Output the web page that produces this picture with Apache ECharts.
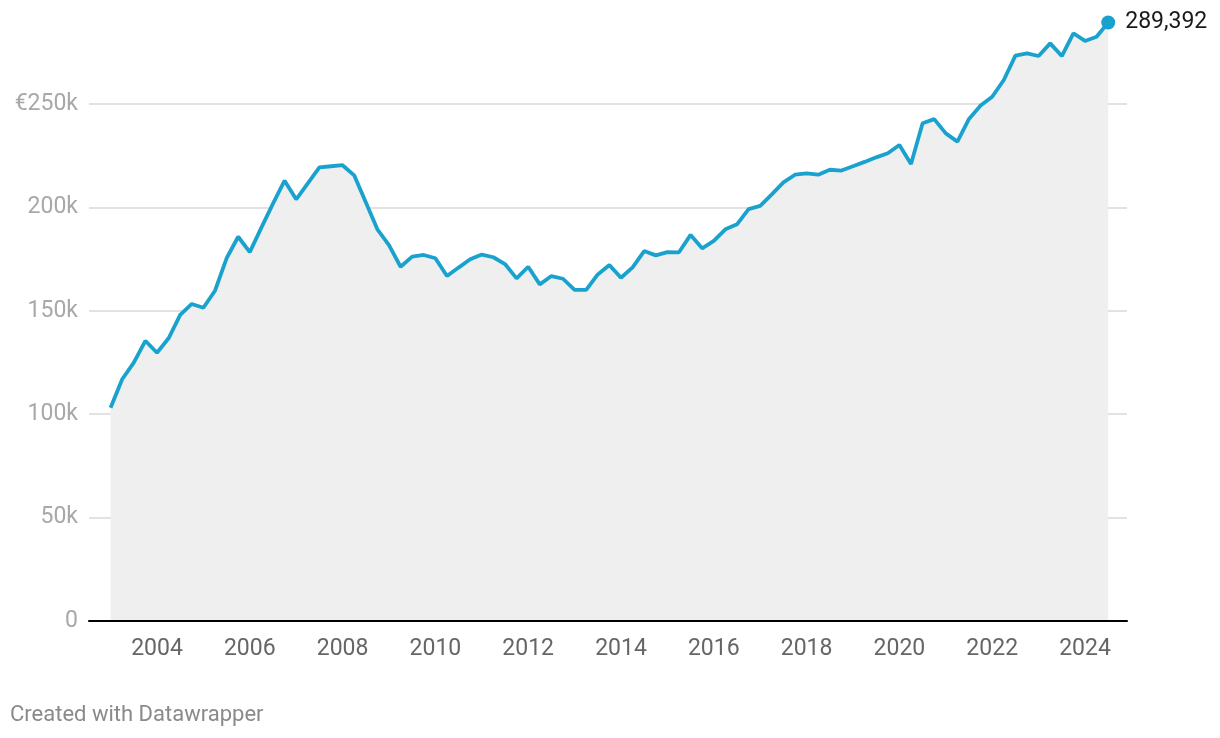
<!DOCTYPE html>
<html>
<head>
<meta charset="utf-8">
<script src="https://cdn.jsdelivr.net/npm/echarts@6/dist/echarts.min.js"></script>
<style>
html,body{margin:0;padding:0;background:#fff;}
#chart{width:1220px;height:738px;}
#credit{position:absolute;left:10px;top:701px;font-family:Roboto,sans-serif;font-size:22px;color:#8a8a8a;}
</style>
</head>
<body>
<div id="chart"></div>
<div id="credit">Created with Datawrapper</div>
<script>
// Quarterly series, 2003 Q1 to 2024 Q3
const startYear = 2003;
const values = [
  103100, 116900, 124900, 135500, 129700, 136700, 148000, 153300, 151500, 159700,
  175400, 185800, 178400, 190200, 201800, 212900, 203900, 211600, 219400, 219900,
  220400, 215500, 202500, 189400, 181800, 171300, 176200, 177000, 175400, 166800,
  170900, 174900, 177200, 175900, 172600, 165700, 171300, 162800, 166800, 165500,
  160100, 160100, 167600, 172100, 166000, 171000, 178900, 176800, 178400, 178300,
  186700, 180200, 183800, 189400, 191800, 199200, 200700, 206300, 212100, 215800,
  216500, 215800, 218200, 217800, 219900, 222000, 224200, 226200, 230200, 221000,
  240700, 242700, 235800, 231800, 242800, 249300, 253500, 261600, 273400, 274500,
  273200, 279300, 273200, 284200, 280500, 282500, 289392
];
const xTickLabels = [2004, 2006, 2008, 2010, 2012, 2014, 2016, 2018, 2020, 2022, 2024];

const quarters = values.map((v, i) => startYear + i * 0.25);
const seriesData = values.map((v, i) => [quarters[i], v]);
const last = seriesData[seriesData.length - 1];

const chart = echarts.init(document.getElementById('chart'));
chart.setOption({
  animation: false,
  grid: { left: 89, right: 93, top: 104, bottom: 117, containLabel: false },
  xAxis: {
    type: 'value',
    min: 2002.535,
    max: 2024.905,
    z: 10,
    axisLine: { show: true, lineStyle: { color: '#000', width: 2 } },
    axisTick: { show: false },
    splitLine: { show: false },
    axisLabel: {
      customValues: xTickLabels,
      formatter: v => String(v),
      color: '#666',
      fontFamily: 'Roboto',
      fontSize: 23,
      margin: 17
    }
  },
  yAxis: {
    type: 'value',
    min: 0,
    max: 250000,
    interval: 50000,
    axisLine: { show: false },
    axisTick: { show: false },
    splitLine: { show: true, lineStyle: { color: '#e2e2e2', width: 2 } },
    axisLabel: {
      formatter: v => v === 0 ? '0' : (v === 250000 ? '€250k' : (v / 1000) + 'k'),
      color: '#a8a8a8',
      fontFamily: 'Roboto',
      fontSize: 23,
      margin: 11
    }
  },
  series: [
    {
      type: 'line',
      data: seriesData,
      clip: false,
      showSymbol: false,
      lineStyle: { color: '#1aa2cf', width: 3.8 },
      areaStyle: { color: '#efefef', opacity: 1 },
      z: 3
    },
    {
      type: 'scatter',
      data: [last],
      clip: false,
      symbolSize: 14,
      itemStyle: { color: '#1aa2cf', opacity: 1 },
      label: {
        show: true,
        position: 'right',
        distance: 10,
        formatter: p => p.value[1].toLocaleString('en-US'),
        color: '#1a1a1a',
        fontFamily: 'Roboto',
        fontSize: 23
      },
      z: 4
    }
  ]
});
</script>
</body>
</html>
